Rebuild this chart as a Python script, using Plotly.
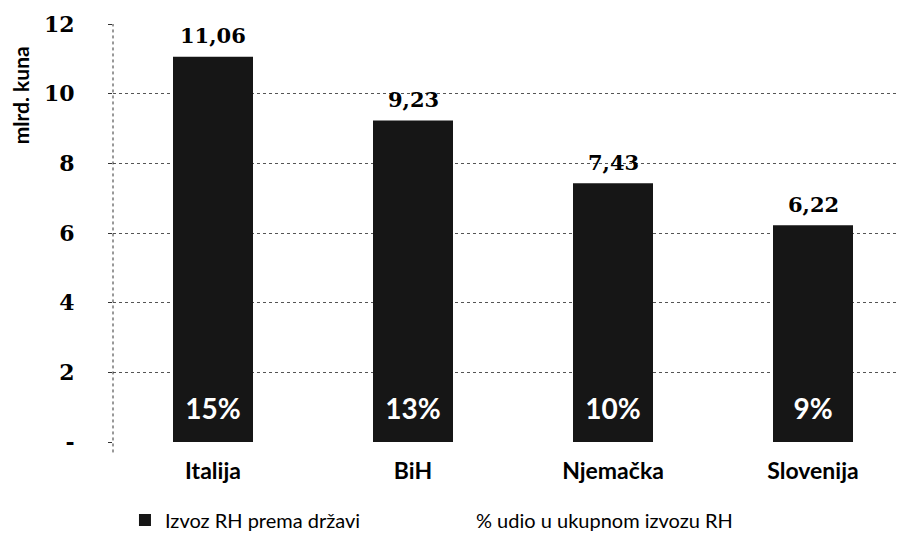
import plotly.graph_objects as go

categories = ["Italija", "BiH", "Njemačka", "Slovenija"]
export_values = [11.06, 9.23, 7.43, 6.22]
share_labels = ["15%", "13%", "10%", "9%"]
y_tickvals = [0, 2, 4, 6, 8, 10, 12]
y_ticktext = ["-", "2", "4", "6", "8", "10", "12"]

SERIF = "DejaVu Serif"
SANS = "Lato"
PCT_LABEL_Y = 0.85

fig = go.Figure()

fig.add_trace(go.Bar(
    x=categories, y=export_values,
    name="Izvoz RH prema državi",
    marker=dict(color="#161616", line=dict(width=0)),
    width=0.4,
    hoverinfo="skip",
))

# percentage share labels inside bars
fig.add_trace(go.Scatter(
    x=categories, y=[PCT_LABEL_Y] * len(categories),
    mode="text",
    text=share_labels,
    textposition="middle center",
    textfont=dict(family=SANS, size=28, color="#ffffff", weight="bold"),
    showlegend=False, hoverinfo="skip",
))

# legend entry for share (no symbol)
fig.add_trace(go.Scatter(
    x=[None], y=[None], mode="markers",
    marker=dict(color="rgba(0,0,0,0)", size=1),
    name="% udio u ukupnom izvozu RH",
    hoverinfo="skip",
))

value_annotations = [
    dict(
        x=c, y=v, xref="x", yref="y",
        text=f"{v:.2f}".replace(".", ","),
        showarrow=False, yanchor="middle", yshift=21,
        font=dict(family=SERIF, size=21, color="#000", weight="bold"),
    )
    for c, v in zip(categories, export_values)
]

fig.update_layout(
    width=898, height=538,
    margin=dict(l=105, r=0, t=16, b=104),
    paper_bgcolor="white", plot_bgcolor="white",
    showlegend=True,
    legend=dict(
        orientation="h", x=0.0151, y=-0.1866, xanchor="left", yanchor="middle",
        font=dict(family=SANS, size=20, color="#000"),
        itemwidth=30, entrywidth=266, entrywidthmode="pixels",
        bgcolor="rgba(0,0,0,0)",
    ),
    xaxis=dict(
        range=[-0.5, 3.465],
        showgrid=False, showline=False, zeroline=False,
        ticks="", ticklabelstandoff=13,
        tickfont=dict(family=SANS, size=23, color="#000", weight="bold"),
        fixedrange=True, automargin=False,
    ),
    yaxis=dict(
        range=[0, 12],
        tickvals=y_tickvals, ticktext=y_ticktext,
        showgrid=True, gridcolor="#555555", gridwidth=1, griddash="dot",
        zeroline=False, showline=False,
        ticks="outside", ticklen=4, tickcolor="#333",
        ticklabelstandoff=29,
        tickfont=dict(family=SERIF, size=22, color="#000", weight="bold"),
        fixedrange=True, automargin=False,
    ),
    shapes=[dict(
        type="line", xref="paper", yref="paper",
        x0=0, x1=0, y0=-0.025, y1=1.0,
        line=dict(color="#333", width=1, dash="dot"),
    )],
    annotations=value_annotations + [dict(
        text="mlrd. kuna", xref="paper", yref="paper",
        x=-0.117, y=0.83, xanchor="center", yanchor="middle",
        textangle=-90, showarrow=False,
        font=dict(family=SANS, size=21, color="#000", weight="bold"),
    )],
)

fig.write_html("out.html")
